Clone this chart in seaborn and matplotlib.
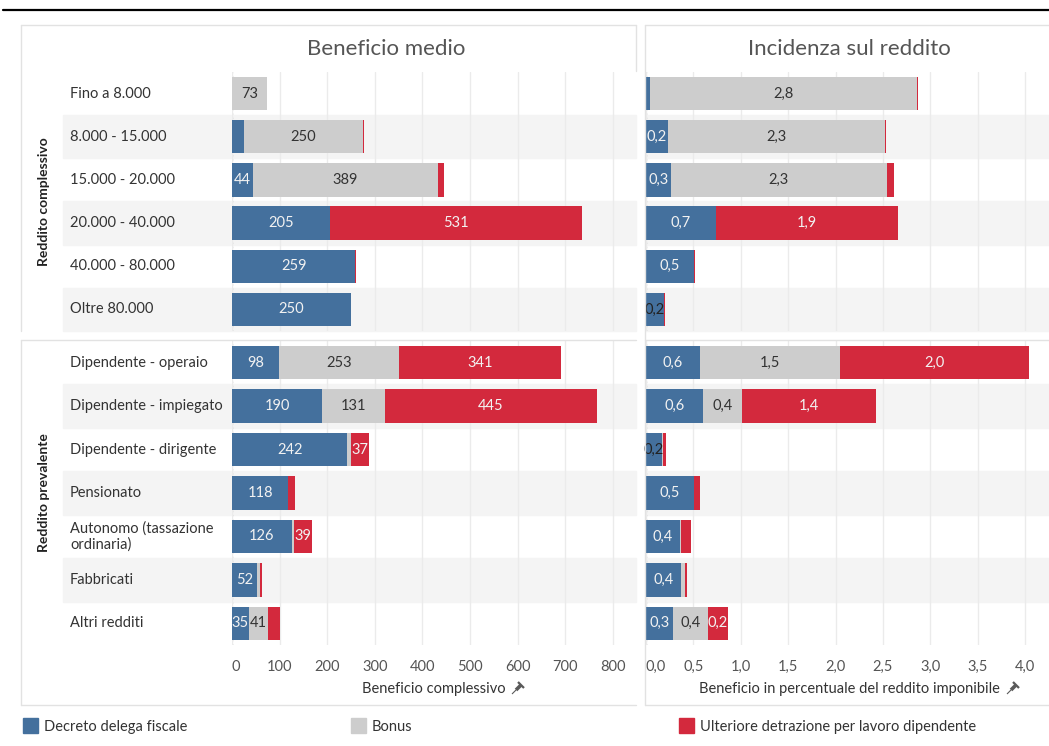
import pandas as pd
import matplotlib.pyplot as plt
import seaborn as sns
from matplotlib.patches import Rectangle
from matplotlib.lines import Line2D
from matplotlib.transforms import blended_transform_factory

sns.set_theme(style="white")
plt.rcParams["font.family"] = ["Lato", "DejaVu Sans"]

# -----------------------------------------------------------------------
# Dati
# -----------------------------------------------------------------------
redd_complessivo = ["Fino a 8.000", "8.000 - 15.000", "15.000 - 20.000",
                    "20.000 - 40.000", "40.000 - 80.000", "Oltre 80.000"]
redd_prevalente = ["Dipendente - operaio", "Dipendente - impiegato",
                   "Dipendente - dirigente", "Pensionato",
                   "Autonomo (tassazione\nordinaria)", "Fabbricati", "Altri redditi"]

# Beneficio medio (euro)
med_decreto_c = [0, 25, 44, 205, 259, 250]
med_bonus_c = [73, 250, 389, 0, 0, 0]
med_ulteriore_c = [1, 2, 12, 531, 1, 1]
med_decreto_p = [98, 190, 242, 118, 126, 52, 35]
med_bonus_p = [253, 131, 8, 0, 4, 6, 41]
med_ulteriore_p = [341, 445, 37, 14, 39, 6, 25]

# Incidenza sul reddito (% del reddito imponibile)
inc_decreto_c = [0.04, 0.23, 0.26, 0.74, 0.51, 0.19]
inc_bonus_c = [2.82, 2.29, 2.28, 0.0, 0.0, 0.0]
inc_ulteriore_c = [0.01, 0.01, 0.08, 1.92, 0.01, 0.01]
inc_decreto_p = [0.57, 0.60, 0.17, 0.51, 0.36, 0.37, 0.29]
inc_bonus_p = [1.48, 0.41, 0.01, 0.0, 0.01, 0.04, 0.36]
inc_ulteriore_p = [1.99, 1.42, 0.03, 0.06, 0.10, 0.02, 0.22]

ticks_med = [0, 100, 200, 300, 400, 500, 600, 700, 800]
ticks_inc = [0, 0.5, 1.0, 1.5, 2.0, 2.5, 3.0, 3.5, 4.0]

serie = ["Decreto delega fiscale", "Bonus", "Ulteriore detrazione per lavoro dipendente"]
BLUE, GRAY, RED = "#44709d", "#cdcdcd", "#d3293d"

W, H = 1049, 746
fig = plt.figure(figsize=(W / 100, H / 100), dpi=100)


def fx(x):
    return x / W


def fy(y):
    return 1 - y / H


def add_ax(x0, y0, x1, y1):
    return fig.add_axes([fx(x0), fy(y1), (x1 - x0) / W, (y1 - y0) / H])


def hline(x0, x1, y, color="#e2e2e2", lw=1):
    fig.add_artist(Line2D([fx(x0), fx(x1)], [fy(y), fy(y)], color=color, lw=lw))


def vline(x, y0, y1, color="#e2e2e2", lw=1):
    fig.add_artist(Line2D([fx(x), fx(x)], [fy(y0), fy(y1)], color=color, lw=lw))


def seg(x0, y0, x1, y1, lw, color="#5a5a5a"):
    fig.add_artist(Line2D([fx(x0), fx(x1)], [fy(y0), fy(y1)], color=color, lw=lw,
                          solid_capstyle="butt"))


def pin(x, y):
    # puntina: corpo, testa e ago inclinati
    seg(x - 1, y + 1, x + 4, y - 4, 2.6)
    seg(x + 1, y - 7, x + 7, y - 1, 1.6)
    seg(x - 1, y + 1, x - 5, y + 5, 0.8)


SEC1 = (72, 331)
SEC2 = (341, 645)
LX = (232, 636)
RX = (646, 1049)
PX_MED = 0.476   # pixel per euro
PX_INC = 94.8    # pixel per punto percentuale

# bande alternate
for (y0, y1), cats in [(SEC1, redd_complessivo), (SEC2, redd_prevalente)]:
    rh = (y1 - y0) / len(cats)
    for i in range(1, len(cats), 2):
        for xa, xb in [(63, 636), (646, 1049)]:
            fig.add_artist(Rectangle((fx(xa), fy(y0 + (i + 1) * rh)), (xb - xa) / W, rh / H,
                                     transform=fig.transFigure, color="#f4f4f4", zorder=0))


def draw_panel(ax, cats, dec, bon, ult, xmax, ticks, fmt, lab_min, dark_below):
    df = pd.DataFrame({"cat": cats, "dec": dec, "bon": bon, "ult": ult})
    df["s1"] = df["dec"]
    df["s2"] = df["dec"] + df["bon"]
    df["s3"] = df["s2"] + df["ult"]
    for col, c in [("s3", RED), ("s2", GRAY), ("s1", BLUE)]:
        sns.barplot(data=df, x=col, y="cat", order=cats, orient="h", color=c,
                    saturation=1, width=0.77, errorbar=None, linewidth=0, ax=ax)
    ax.set_facecolor("none")
    ax.set_xlim(0, xmax)
    ax.set_ylim(len(cats) - 0.5, -0.5)
    ax.set_xticks(ticks)
    ax.grid(axis="x", color="#ebebeb", lw=1)
    ax.set_axisbelow(True)
    ax.axvline(0, color="#b5b5b5", lw=1, ls=(0, (1, 2)), zorder=0.5)
    ax.set_xlabel("")
    ax.set_ylabel("")
    ax.set_yticks([])
    ax.tick_params(axis="x", length=0, labelbottom=False)
    for s in ax.spines.values():
        s.set_visible(False)
    for i, r in df.iterrows():
        start = 0
        for val, kind in [(r["dec"], "b"), (r["bon"], "g"), (r["ult"], "r")]:
            if val >= lab_min:
                if kind == "g":
                    col = "#333333"
                elif val < dark_below:
                    col = "#222222"
                else:
                    col = "#f2f2f2"
                ax.text(start + val / 2, i, fmt(val), ha="center", va="center",
                        fontsize=10.5, color=col, clip_on=False, zorder=5)
            start += val


def fmt_med(v):
    return f"{v:.0f}"


def fmt_inc(v):
    return f"{v:.1f}".replace(".", ",")


xmax_med = (LX[1] - LX[0]) / PX_MED
xmax_inc = (RX[1] - RX[0]) / PX_INC

axes = []
for (y0, y1), cats, d, b, u in [
        (SEC1, redd_complessivo, med_decreto_c, med_bonus_c, med_ulteriore_c),
        (SEC2, redd_prevalente, med_decreto_p, med_bonus_p, med_ulteriore_p)]:
    ax = add_ax(LX[0], y0, LX[1], y1)
    draw_panel(ax, cats, d, b, u, xmax_med, ticks_med, fmt_med, 30, 0)
    tr = blended_transform_factory(fig.transFigure, ax.transData)
    for i, c in enumerate(cats):
        ax.text(fx(70), i, c, transform=tr, ha="left", va="center",
                fontsize=10.5, color="#333333", linespacing=1.2)
    axes.append(ax)

for (y0, y1), cats, d, b, u in [
        (SEC1, redd_complessivo, inc_decreto_c, inc_bonus_c, inc_ulteriore_c),
        (SEC2, redd_prevalente, inc_decreto_p, inc_bonus_p, inc_ulteriore_p)]:
    ax = add_ax(RX[0], y0, RX[1], y1)
    draw_panel(ax, cats, d, b, u, xmax_inc, ticks_inc, fmt_inc, 0.15, 0.2)
    axes.append(ax)

# etichette asse x
for ax, labels in [(axes[1], [str(t) for t in ticks_med]),
                   (axes[3], [fmt_inc(t) for t in ticks_inc])]:
    ax.tick_params(axis="x", labelbottom=True, pad=11, labelsize=10.5, labelcolor="#555555")
    ax.set_xticklabels(labels)
    ax.get_xticklabels()[0].set_ha("left")

fig.text(fx(434), fy(689), "Beneficio complessivo", ha="center", va="center",
         fontsize=10.5, color="#333333")
pin(517, 689)
fig.text(fx(849), fy(689), "Beneficio in percentuale del reddito imponibile",
         ha="center", va="center", fontsize=10.5, color="#333333")
pin(1012, 689)

# intestazioni
fig.text(fx(386), fy(49), "Beneficio medio", ha="center", va="center",
         fontsize=16, color="#555555")
fig.text(fx(849), fy(49), "Incidenza sul reddito", ha="center", va="center",
         fontsize=16, color="#555555")

# etichette di gruppo
fig.text(fx(44), fy(sum(SEC1) / 2), "Reddito complessivo", rotation=90, ha="center",
         va="center", fontsize=10, fontweight="bold", color="#222222")
fig.text(fx(44), fy(sum(SEC2) / 2), "Reddito prevalente", rotation=90, ha="center",
         va="center", fontsize=10, fontweight="bold", color="#222222")

# bordi
hline(3, 1049, 10, color="black", lw=1.6)
hline(21, 636, 25)
vline(21, 25, 331)
vline(636, 25, 71)
hline(21, 636, 340)
vline(21, 340, 705)
hline(21, 636, 705)
hline(645, 1049, 25)
vline(645, 25, 705)
hline(645, 1049, 340)
hline(645, 1049, 705)

# legenda
for xpos, lab, col in zip([23, 351, 679], serie, [BLUE, GRAY, RED]):
    fig.add_artist(Rectangle((fx(xpos), fy(733)), 15 / W, 15 / H,
                             transform=fig.transFigure, color=col))
    fig.text(fx(xpos + 21), fy(727), lab, ha="left", va="center",
             fontsize=10.5, color="#333333")

fig.savefig("out.png", dpi=100, facecolor="white")
